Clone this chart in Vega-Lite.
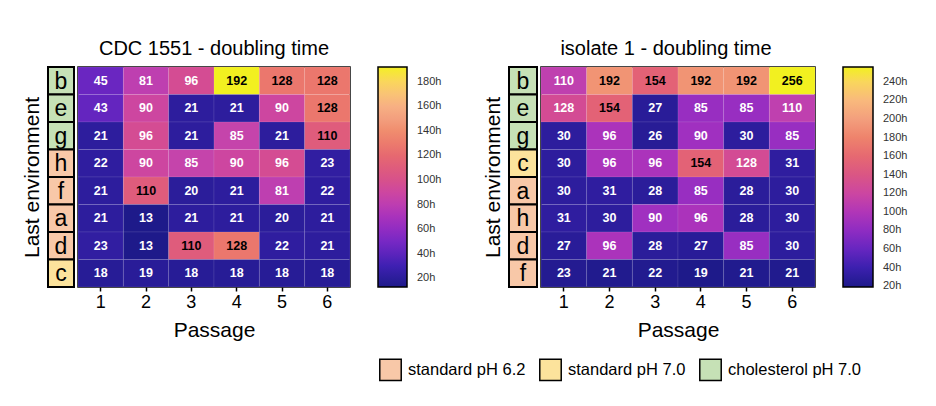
{
  "$schema": "https://vega.github.io/schema/vega-lite/v6.json",
  "background": "white",
  "padding": {"left": 20, "top": 37, "right": 5, "bottom": 5},
  "config": {
    "font": "Liberation Sans",
    "view": {"stroke": "black", "strokeWidth": 1.5},
    "axis": {"labelColor": "black", "titleColor": "black", "titleFontWeight": "normal"},
    "title": {"fontWeight": "normal", "color": "black", "fontSize": 20}
  },
  "datasets": {
    "cells": [
      {"p":"L","env":"b","passage":1,"t":45},{"p":"L","env":"b","passage":2,"t":81},{"p":"L","env":"b","passage":3,"t":96},{"p":"L","env":"b","passage":4,"t":192},{"p":"L","env":"b","passage":5,"t":128},{"p":"L","env":"b","passage":6,"t":128},
      {"p":"L","env":"e","passage":1,"t":43},{"p":"L","env":"e","passage":2,"t":90},{"p":"L","env":"e","passage":3,"t":21},{"p":"L","env":"e","passage":4,"t":21},{"p":"L","env":"e","passage":5,"t":90},{"p":"L","env":"e","passage":6,"t":128},
      {"p":"L","env":"g","passage":1,"t":21},{"p":"L","env":"g","passage":2,"t":96},{"p":"L","env":"g","passage":3,"t":21},{"p":"L","env":"g","passage":4,"t":85},{"p":"L","env":"g","passage":5,"t":21},{"p":"L","env":"g","passage":6,"t":110},
      {"p":"L","env":"h","passage":1,"t":22},{"p":"L","env":"h","passage":2,"t":90},{"p":"L","env":"h","passage":3,"t":85},{"p":"L","env":"h","passage":4,"t":90},{"p":"L","env":"h","passage":5,"t":96},{"p":"L","env":"h","passage":6,"t":23},
      {"p":"L","env":"f","passage":1,"t":21},{"p":"L","env":"f","passage":2,"t":110},{"p":"L","env":"f","passage":3,"t":20},{"p":"L","env":"f","passage":4,"t":21},{"p":"L","env":"f","passage":5,"t":81},{"p":"L","env":"f","passage":6,"t":22},
      {"p":"L","env":"a","passage":1,"t":21},{"p":"L","env":"a","passage":2,"t":13},{"p":"L","env":"a","passage":3,"t":21},{"p":"L","env":"a","passage":4,"t":21},{"p":"L","env":"a","passage":5,"t":20},{"p":"L","env":"a","passage":6,"t":21},
      {"p":"L","env":"d","passage":1,"t":23},{"p":"L","env":"d","passage":2,"t":13},{"p":"L","env":"d","passage":3,"t":110},{"p":"L","env":"d","passage":4,"t":128},{"p":"L","env":"d","passage":5,"t":22},{"p":"L","env":"d","passage":6,"t":21},
      {"p":"L","env":"c","passage":1,"t":18},{"p":"L","env":"c","passage":2,"t":19},{"p":"L","env":"c","passage":3,"t":18},{"p":"L","env":"c","passage":4,"t":18},{"p":"L","env":"c","passage":5,"t":18},{"p":"L","env":"c","passage":6,"t":18},
      {"p":"R","env":"b","passage":1,"t":110},{"p":"R","env":"b","passage":2,"t":192},{"p":"R","env":"b","passage":3,"t":154},{"p":"R","env":"b","passage":4,"t":192},{"p":"R","env":"b","passage":5,"t":192},{"p":"R","env":"b","passage":6,"t":256},
      {"p":"R","env":"e","passage":1,"t":128},{"p":"R","env":"e","passage":2,"t":154},{"p":"R","env":"e","passage":3,"t":27},{"p":"R","env":"e","passage":4,"t":85},{"p":"R","env":"e","passage":5,"t":85},{"p":"R","env":"e","passage":6,"t":110},
      {"p":"R","env":"g","passage":1,"t":30},{"p":"R","env":"g","passage":2,"t":96},{"p":"R","env":"g","passage":3,"t":26},{"p":"R","env":"g","passage":4,"t":90},{"p":"R","env":"g","passage":5,"t":30},{"p":"R","env":"g","passage":6,"t":85},
      {"p":"R","env":"c","passage":1,"t":30},{"p":"R","env":"c","passage":2,"t":96},{"p":"R","env":"c","passage":3,"t":96},{"p":"R","env":"c","passage":4,"t":154},{"p":"R","env":"c","passage":5,"t":128},{"p":"R","env":"c","passage":6,"t":31},
      {"p":"R","env":"a","passage":1,"t":30},{"p":"R","env":"a","passage":2,"t":31},{"p":"R","env":"a","passage":3,"t":28},{"p":"R","env":"a","passage":4,"t":85},{"p":"R","env":"a","passage":5,"t":28},{"p":"R","env":"a","passage":6,"t":30},
      {"p":"R","env":"h","passage":1,"t":31},{"p":"R","env":"h","passage":2,"t":30},{"p":"R","env":"h","passage":3,"t":90},{"p":"R","env":"h","passage":4,"t":96},{"p":"R","env":"h","passage":5,"t":28},{"p":"R","env":"h","passage":6,"t":30},
      {"p":"R","env":"d","passage":1,"t":27},{"p":"R","env":"d","passage":2,"t":96},{"p":"R","env":"d","passage":3,"t":28},{"p":"R","env":"d","passage":4,"t":27},{"p":"R","env":"d","passage":5,"t":85},{"p":"R","env":"d","passage":6,"t":30},
      {"p":"R","env":"f","passage":1,"t":23},{"p":"R","env":"f","passage":2,"t":21},{"p":"R","env":"f","passage":3,"t":22},{"p":"R","env":"f","passage":4,"t":19},{"p":"R","env":"f","passage":5,"t":21},{"p":"R","env":"f","passage":6,"t":21}
    ],
    "envs": [
      {"p":"L","env":"b","cat":"cholesterol pH 7.0"},{"p":"L","env":"e","cat":"cholesterol pH 7.0"},{"p":"L","env":"g","cat":"cholesterol pH 7.0"},
      {"p":"L","env":"h","cat":"standard pH 6.2"},{"p":"L","env":"f","cat":"standard pH 6.2"},{"p":"L","env":"a","cat":"standard pH 6.2"},{"p":"L","env":"d","cat":"standard pH 6.2"},
      {"p":"L","env":"c","cat":"standard pH 7.0"},
      {"p":"R","env":"b","cat":"cholesterol pH 7.0"},{"p":"R","env":"e","cat":"cholesterol pH 7.0"},{"p":"R","env":"g","cat":"cholesterol pH 7.0"},
      {"p":"R","env":"c","cat":"standard pH 7.0"},
      {"p":"R","env":"a","cat":"standard pH 6.2"},{"p":"R","env":"h","cat":"standard pH 6.2"},{"p":"R","env":"d","cat":"standard pH 6.2"},{"p":"R","env":"f","cat":"standard pH 6.2"}
    ]
  },
  "spacing": 38,
  "resolve": {"scale": {"color": "independent", "fill": "shared"}, "legend": {"color": "independent", "fill": "shared"}},
  "hconcat": [
    {
      "spacing": 0,
      "resolve": {"scale": {"color": "independent", "fill": "shared"}, "legend": {"color": "independent", "fill": "shared"}},
      "hconcat": [
        {
          "width": 26, "height": 220,
          "data": {"name": "envs"},
          "transform": [{"filter": "datum.p == 'L'"}],
          "encoding": {
            "y": {"field": "env", "type": "nominal", "sort": ["b","e","g","h","f","a","d","c"], "scale": {"paddingInner": 0, "paddingOuter": 0},
                  "axis": {"labels": false, "ticks": false, "domain": false, "title": "Last environment", "titleFontSize": 21, "titlePadding": 6}}
          },
          "layer": [
            {"mark": {"type": "rect", "stroke": "black", "strokeWidth": 2},
             "encoding": {"fill": {"field": "cat", "type": "nominal",
               "scale": {"domain": ["standard pH 6.2","standard pH 7.0","cholesterol pH 7.0"], "range": ["#f8c8a8","#fce39c","#c6e1b6"]},
               "legend": {"orient": "none", "legendX": 331, "legendY": 291, "direction": "horizontal", "title": null, "symbolType": "square", "symbolSize": 460, "symbolStrokeColor": "black", "symbolStrokeWidth": 1.5, "symbolOpacity": 1, "labelFontSize": 16.5, "labelColor": "black", "labelOffset": 6, "columnPadding": 10, "padding": 0}}}},
            {"mark": {"type": "text", "fontSize": 23, "color": "black", "baseline": "middle", "dy": 1},
             "encoding": {"text": {"field": "env"}}}
          ]
        },
        {
          "width": 272, "height": 220,
          "data": {"name": "cells"},
          "transform": [{"filter": "datum.p == 'L'"}],
          "title": {"text": "CDC 1551 - doubling time", "offset": 8},
          "encoding": {
            "x": {"field": "passage", "type": "ordinal", "scale": {"paddingInner": 0, "paddingOuter": 0},
                  "axis": {"labelAngle": 0, "labelFontSize": 18, "labelPadding": 2, "domain": false, "tickColor": "black", "tickSize": 4, "tickWidth": 1.5, "title": "Passage", "titleFontSize": 21, "titlePadding": 8}},
            "y": {"field": "env", "type": "nominal", "sort": ["b","e","g","h","f","a","d","c"], "scale": {"paddingInner": 0, "paddingOuter": 0}, "axis": null}
          },
          "layer": [
            {"mark": {"type": "rect", "stroke": "white", "strokeOpacity": 0.15, "strokeWidth": 0.6},
             "encoding": {"color": {"field": "t", "type": "quantitative",
               "scale": {"domain": [13, 192], "range": ["#1e1a8a","#4020b4","#7428c4","#a030c0","#c444ac","#d85486","#e66a70","#f08a6c","#f4aa88","#f6cc70","#f2f020"]},
               "legend": {"title": null, "orient": "right", "offset": 28, "gradientLength": 220, "gradientThickness": 29, "gradientStrokeColor": "black", "gradientStrokeWidth": 1.5, "values": [20,40,60,80,100,120,140,160,180], "labelExpr": "datum.value + 'h'", "labelFontSize": 11, "labelColor": "#333333", "labelOffset": 10, "labelOverlap": false, "labelFlush": false, "padding": 0}}}},
            {"mark": {"type": "text", "fontSize": 12.5, "fontWeight": "bold", "baseline": "middle"},
             "encoding": {"text": {"field": "t"}, "color": {"condition": {"test": "datum.t >= 105", "value": "black"}, "value": "white"}}}
          ]
        }
      ]
    },
    {
      "spacing": 0,
      "resolve": {"scale": {"color": "independent", "fill": "shared"}, "legend": {"color": "independent", "fill": "shared"}},
      "hconcat": [
        {
          "width": 28, "height": 220,
          "data": {"name": "envs"},
          "transform": [{"filter": "datum.p == 'R'"}],
          "encoding": {
            "y": {"field": "env", "type": "nominal", "sort": ["b","e","g","c","a","h","d","f"], "scale": {"paddingInner": 0, "paddingOuter": 0},
                  "axis": {"labels": false, "ticks": false, "domain": false, "title": "Last environment", "titleFontSize": 21, "titlePadding": 6}}
          },
          "layer": [
            {"mark": {"type": "rect", "stroke": "black", "strokeWidth": 2},
             "encoding": {"fill": {"field": "cat", "type": "nominal",
               "scale": {"domain": ["standard pH 6.2","standard pH 7.0","cholesterol pH 7.0"], "range": ["#f8c8a8","#fce39c","#c6e1b6"]},
               "legend": {"orient": "none", "legendX": 331, "legendY": 291, "direction": "horizontal", "title": null, "symbolType": "square", "symbolSize": 460, "symbolStrokeColor": "black", "symbolStrokeWidth": 1.5, "symbolOpacity": 1, "labelFontSize": 16.5, "labelColor": "black", "labelOffset": 6, "columnPadding": 10, "padding": 0}}}},
            {"mark": {"type": "text", "fontSize": 23, "color": "black", "baseline": "middle", "dy": 1},
             "encoding": {"text": {"field": "env"}}}
          ]
        },
        {
          "width": 274, "height": 220,
          "data": {"name": "cells"},
          "transform": [{"filter": "datum.p == 'R'"}],
          "title": {"text": "isolate 1 - doubling time", "offset": 8, "dx": -12},
          "encoding": {
            "x": {"field": "passage", "type": "ordinal", "scale": {"paddingInner": 0, "paddingOuter": 0},
                  "axis": {"labelAngle": 0, "labelFontSize": 18, "labelPadding": 2, "domain": false, "tickColor": "black", "tickSize": 4, "tickWidth": 1.5, "title": "Passage", "titleFontSize": 21, "titlePadding": 8}},
            "y": {"field": "env", "type": "nominal", "sort": ["b","e","g","c","a","h","d","f"], "scale": {"paddingInner": 0, "paddingOuter": 0}, "axis": null}
          },
          "layer": [
            {"mark": {"type": "rect", "stroke": "white", "strokeOpacity": 0.15, "strokeWidth": 0.6},
             "encoding": {"color": {"field": "t", "type": "quantitative",
               "scale": {"domain": [19, 256], "range": ["#1e1a8a","#4020b4","#7428c4","#a030c0","#c444ac","#d85486","#e66a70","#f08a6c","#f4aa88","#f6cc70","#f2f020"]},
               "legend": {"title": null, "orient": "right", "offset": 28, "gradientLength": 220, "gradientThickness": 30, "gradientStrokeColor": "black", "gradientStrokeWidth": 1.5, "values": [20,40,60,80,100,120,140,160,180,200,220,240], "labelExpr": "datum.value + 'h'", "labelFontSize": 11, "labelColor": "#333333", "labelOffset": 10, "labelOverlap": false, "labelFlush": false, "padding": 0}}}},
            {"mark": {"type": "text", "fontSize": 12.5, "fontWeight": "bold", "baseline": "middle"},
             "encoding": {"text": {"field": "t"}, "color": {"condition": {"test": "datum.t >= 140", "value": "black"}, "value": "white"}}}
          ]
        }
      ]
    }
  ]
}
